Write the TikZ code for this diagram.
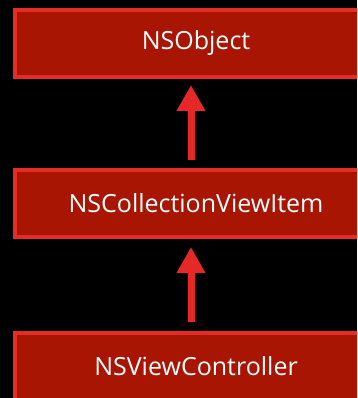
\documentclass[tikz,border=0pt]{standalone}
\usepackage{fontspec}
\setmainfont{Open Sans}
\usetikzlibrary{arrows.meta}
\definecolor{boxfill}{RGB}{168,22,3}
\definecolor{boxline}{RGB}{229,45,38}
\definecolor{arrowred}{RGB}{230,40,40}
\tikzset{
  classbox/.style={draw=boxline, fill=boxfill, line width=4pt, minimum width=362pt, minimum height=67pt, inner sep=0pt, text=white, font=\fontsize{25}{29}\selectfont},
  inherit/.style={draw=arrowred, line width=7pt, -{Triangle[width=27pt,length=26pt]}}
}
\begin{document}
\begin{tikzpicture}[x=1pt,y=1pt]
\useasboundingbox (0,0) rectangle (357,398);
\fill[black] (0,0) rectangle (357,398);
\clip (0,0) rectangle (357,398);
\node[classbox] (obj) at (196,354.5) {NSObject};
\node[classbox] (item) at (196,194.5) {NSCollectionViewItem};
\node[classbox] (vc) at (196,31.5) {NSViewController};
\draw[inherit, shorten <=8pt, shorten >=6pt] ([xshift=-5pt]item.north) -- ([xshift=-5pt]obj.south);
\draw[inherit, shorten <=9pt, shorten >=8pt] ([xshift=-5pt]vc.north) -- ([xshift=-5pt]item.south);
\end{tikzpicture}
\end{document}
